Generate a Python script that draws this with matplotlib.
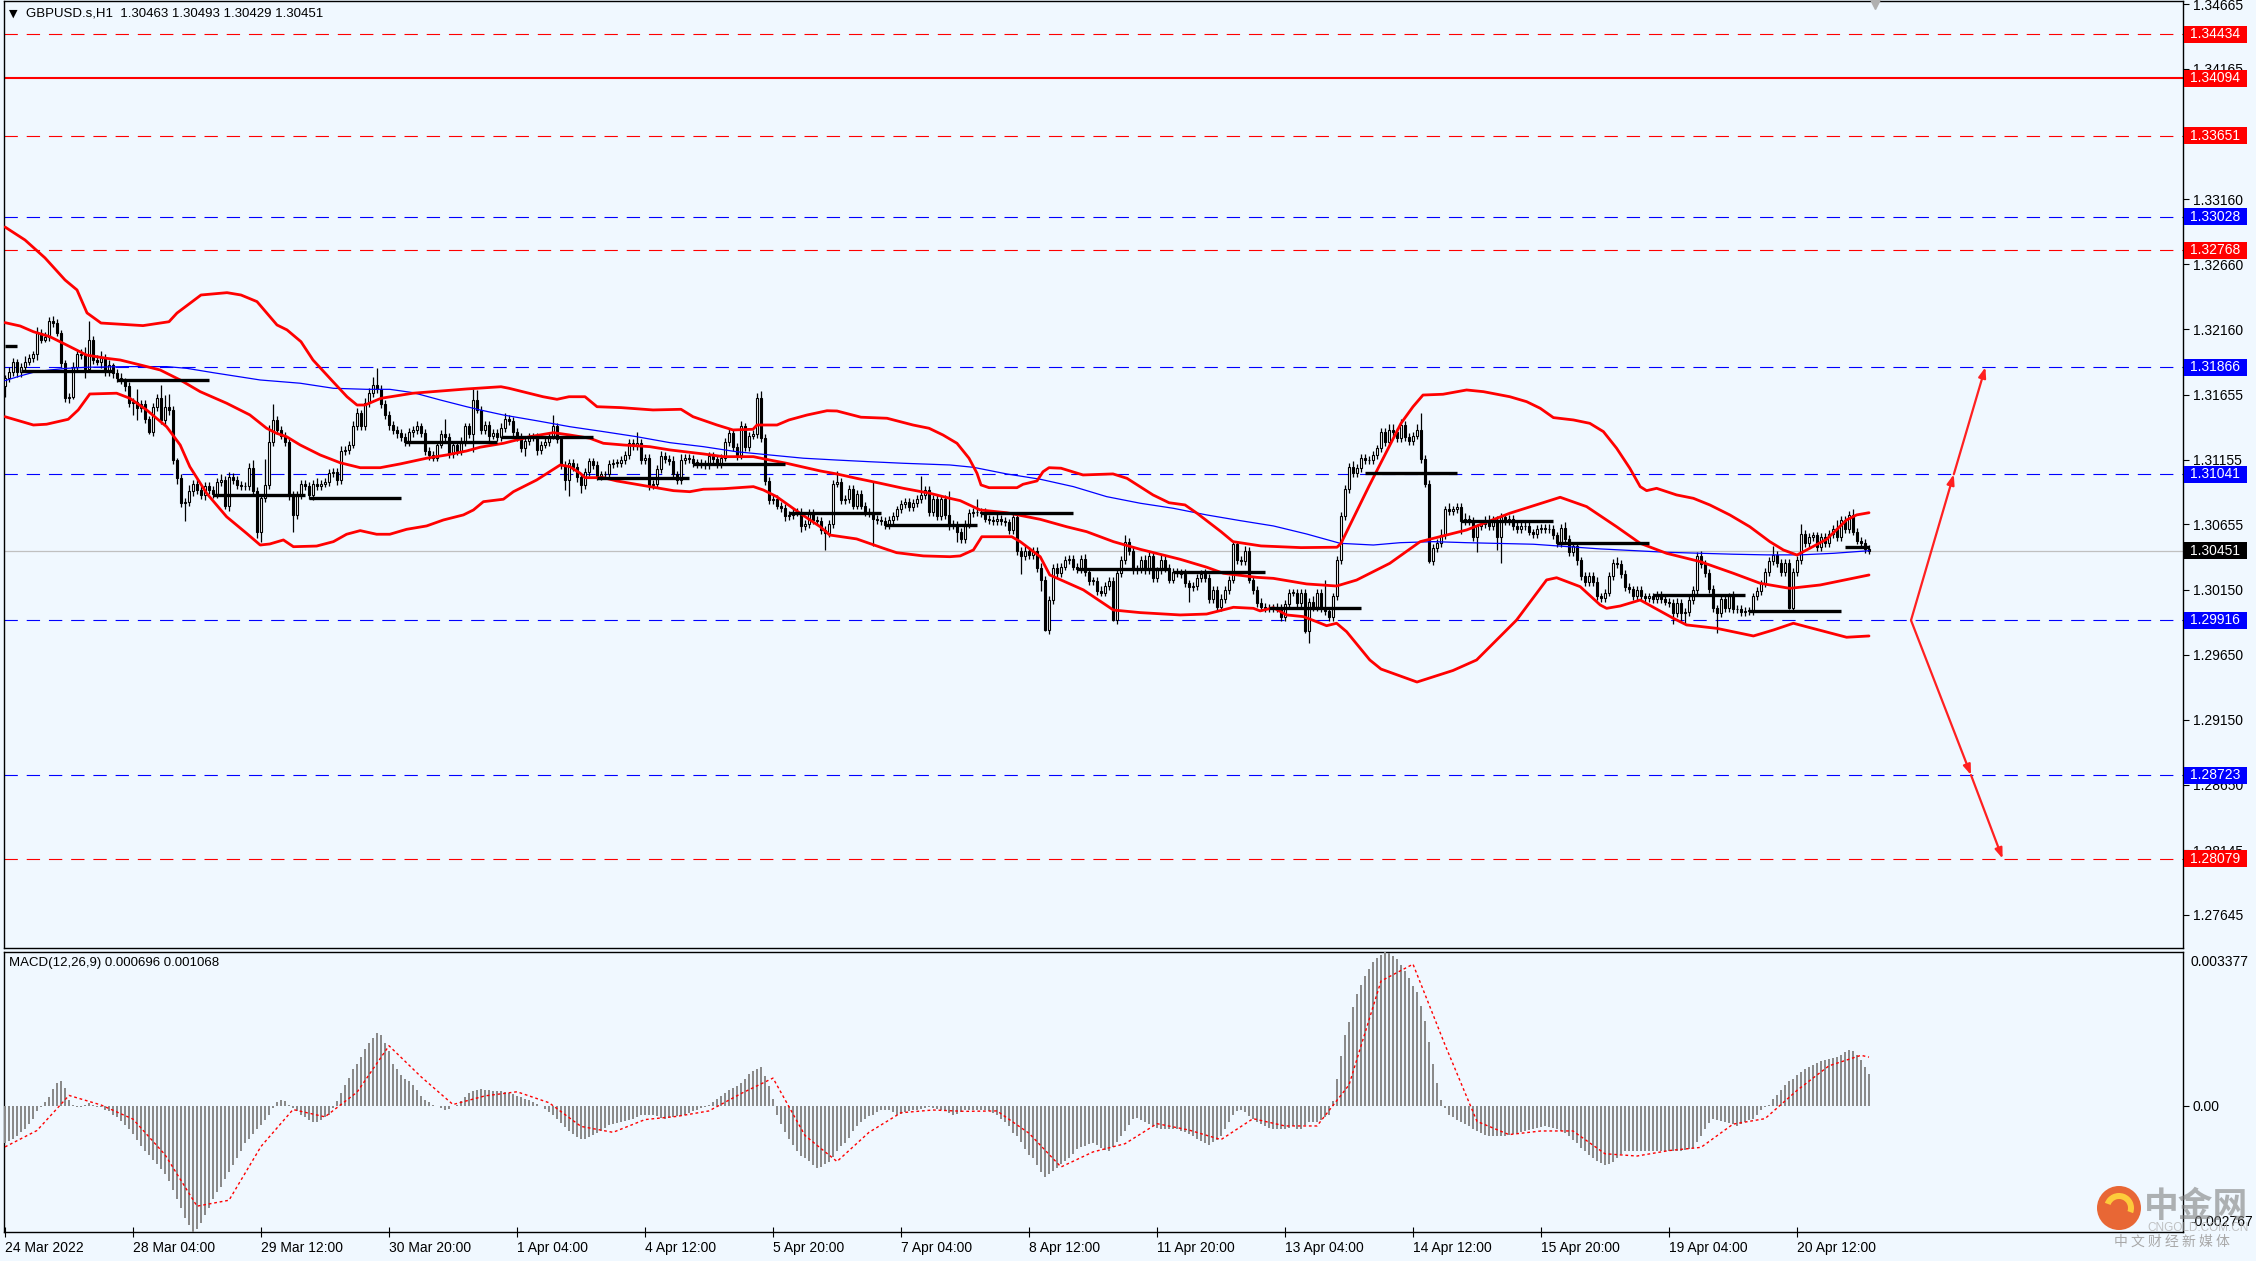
import numpy as np, matplotlib
matplotlib.use('Agg'); import matplotlib.pyplot as plt
from matplotlib.patches import Rectangle, Circle, Wedge

plt.rcParams.update({'font.family': ['Liberation Sans', 'DejaVu Sans'], 'font.size': 10})
BG = '#f0f8ff'
W, H = 2256, 1261

# ---- hourly candles, one row per day; price = 1.3 + v/1e4 ----
open0 = 172
close_days = [
 [178, 183, 191, 183],
 [187, 191, 194, 197, 213, 208, 210, 222, 221, 213, 190, 163, 164, 187, 197, 196, 185, 208, 192, 191, 194, 183, 188, 182],
 [178, 176, 172, 159, 160, 155, 158, 147, 137, 156, 163, 146, 156, 154, 115, 101, 82, 83, 91, 97, 92, 88, 95, 92],
 [89, 98, 100, 80, 102, 100, 96, 95, 95, 109, 91, 60, 86, 96, 129, 146, 138, 134, 129, 88, 73, 88, 97, 95],
 [88, 97, 95, 97, 98, 105, 106, 100, 122, 123, 127, 141, 151, 141, 159, 167, 173, 170, 158, 150, 142, 138, 136, 133],
 [129, 137, 138, 141, 136, 122, 119, 117, 127, 135, 133, 120, 127, 122, 129, 141, 135, 161, 154, 138, 142, 134, 136, 133],
 [140, 147, 145, 137, 133, 124, 130, 133, 133, 123, 127, 129, 134, 141, 131, 111, 100, 113, 110, 102, 96, 106, 114, 111],
 [103, 104, 104, 112, 113, 113, 115, 119, 128, 126, 128, 115, 117, 96, 97, 108, 118, 116, 114, 104, 100, 115, 117, 116],
 [113, 113, 112, 111, 118, 116, 112, 117, 129, 136, 125, 119, 141, 125, 134, 135, 163, 132, 99, 84, 85, 80, 78, 72],
 [73, 75, 75, 64, 66, 74, 69, 68, 61, 59, 66, 97, 98, 84, 85, 93, 80, 89, 80, 75, 74, 70, 69, 68],
 [65, 69, 72, 77, 81, 83, 79, 82, 85, 88, 92, 75, 85, 72, 85, 73, 66, 65, 60, 54, 66, 74, 75, 75],
 [74, 70, 69, 68, 70, 68, 67, 61, 71, 45, 41, 45, 42, 45, 32, 23, -16, 7, 32, 28, 33, 38, 39, 33],
 [31, 39, 29, 22, 22, 14, 13, 18, 22, -8, 28, 38, 52, 45, 30, 31, 38, 30, 41, 24, 30, 38, 32, 23],
 [29, 28, 27, 20, 17, 18, 24, 27, 24, 8, 15, 2, 8, 15, 23, 50, 38, 37, 45, 23, 15, 5, 2, 1],
 [1, 1, 1, -6, 4, 13, 13, 5, 13, -17, 6, 2, 13, 1, -1, -6, 10, 38, 72, 93, 110, 105, 109, 117],
 [115, 115, 119, 124, 137, 129, 138, 137, 132, 142, 133, 130, 134, 138, 116, 97, 37, 47, 51, 57, 77, 76, 77, 79],
 [68, 70, 68, 56, 64, 66, 69, 64, 69, 56, 71, 68, 70, 64, 62, 64, 64, 60, 58, 62, 63, 62, 62, 57],
 [51, 63, 54, 44, 49, 38, 26, 21, 26, 21, 10, 9, 13, 26, 36, 35, 27, 17, 16, 10, 15, 10, 9, 10],
 [8, 11, 8, 6, 5, -3, 5, -3, -2, 7, 15, 41, 35, 28, 16, 1, -3, 8, 1, 10, 0, 0, -2, -1],
 [-1, 10, 14, 20, 29, 37, 42, 36, 29, 36, 1, 29, 38, 58, 51, 56, 57, 48, 56, 51, 58, 62, 56, 69],
 [62, 73, 60, 53, 51, 46.3, 45.1],
]
# upper / lower wick length in pips
up_days = [
 [3, 4, 3, 2],
 [3, 4, 3, 2, 5, 3, 4, 3, 4, 3, 2, 2, 3, 4, 3, 4, 6, 14, 3, 4, 5, 3, 4, 2],
 [3, 4, 2, 3, 3, 10, 3, 3, 2, 3, 3, 10, 9, 10, 3, 2, 3, 3, 5, 3, 4, 3, 3, 3],
 [3, 3, 4, 3, 4, 3, 3, 3, 3, 4, 6, 3, 3, 20, 13, 12, 3, 3, 3, 3, 3, 3, 3, 3],
 [3, 3, 4, 3, 3, 3, 3, 3, 4, 3, 3, 4, 4, 3, 4, 4, 6, 13, 3, 3, 3, 3, 3, 3],
 [3, 3, 3, 4, 3, 3, 3, 3, 3, 3, 12, 3, 3, 3, 4, 3, 3, 9, 8, 3, 3, 3, 3, 3],
 [4, 4, 3, 3, 3, 3, 3, 3, 3, 3, 3, 3, 3, 9, 3, 3, 3, 3, 3, 3, 3, 3, 3, 3],
 [3, 3, 3, 3, 3, 3, 3, 3, 3, 3, 9, 3, 3, 3, 3, 3, 4, 3, 3, 4, 3, 5, 3, 3],
 [3, 3, 3, 3, 3, 3, 3, 3, 3, 4, 3, 3, 4, 3, 3, 3, 4, 5, 3, 3, 3, 3, 3, 3],
 [3, 3, 3, 3, 3, 3, 3, 3, 3, 3, 3, 3, 9, 3, 3, 3, 3, 3, 3, 3, 3, 25, 3, 3],
 [3, 3, 3, 3, 3, 3, 3, 3, 3, 15, 3, 3, 3, 3, 3, 3, 18, 3, 3, 3, 3, 3, 3, 10],
 [3, 4, 3, 3, 4, 3, 3, 3, 4, 3, 3, 4, 3, 3, 3, 4, 3, 3, 3, 4, 3, 3, 3, 3],
 [3, 3, 4, 3, 3, 3, 4, 3, 3, 3, 3, 3, 5, 3, 4, 3, 3, 4, 3, 3, 3, 4, 3, 3],
 [3, 3, 3, 4, 3, 3, 3, 3, 4, 3, 3, 3, 4, 3, 3, 3, 3, 3, 4, 3, 3, 3, 4, 3],
 [3, 3, 4, 3, 3, 3, 3, 3, 3, 3, 3, 4, 3, 3, 22, 3, 3, 3, 3, 3, 3, 4, 3, 3],
 [3, 3, 3, 3, 3, 3, 5, 5, 3, 5, 3, 3, 3, 5, 13, 3, 3, 3, 3, 5, 3, 5, 3, 3],
 [3, 4, 3, 3, 2, 3, 3, 4, 3, 3, 3, 2, 3, 3, 4, 3, 3, 3, 2, 3, 3, 3, 4, 3],
 [3, 3, 4, 3, 3, 3, 2, 3, 3, 3, 4, 3, 3, 3, 3, 4, 3, 3, 3, 2, 3, 3, 3, 3],
 [3, 3, 3, 2, 3, 3, 4, 3, 3, 3, 3, 3, 4, 3, 3, 3, 2, 3, 3, 3, 4, 3, 3, 3],
 [3, 3, 3, 3, 3, 3, 7, 3, 3, 3, 3, 3, 3, 8, 3, 3, 3, 3, 3, 3, 3, 3, 7, 3],
 [3, 3, 4, 3, 3, 3, 3.0],
]
dn_days = [
 [8, 3, 3, 4],
 [4, 3, 3, 3, 5, 3, 2, 3, 3, 2, 3, 3, 4, 2, 3, 3, 7, 2, 3, 3, 5, 3, 3, 4],
 [3, 2, 4, 3, 9, 9, 3, 3, 2, 3, 3, 3, 4, 4, 3, 4, 3, 14, 3, 4, 3, 3, 4, 3],
 [3, 3, 3, 3, 4, 3, 3, 3, 3, 3, 3, 5, 8, 3, 3, 3, 3, 3, 3, 4, 13, 3, 3, 3],
 [3, 4, 3, 3, 3, 3, 3, 4, 3, 3, 3, 3, 3, 3, 3, 3, 3, 3, 3, 3, 4, 3, 4, 3],
 [3, 3, 4, 3, 3, 3, 4, 3, 3, 3, 3, 3, 3, 3, 3, 3, 3, 14, 3, 3, 3, 6, 3, 3],
 [3, 3, 3, 3, 3, 3, 6, 3, 3, 4, 3, 3, 3, 3, 3, 3, 8, 13, 3, 4, 6, 3, 3, 3],
 [3, 3, 3, 3, 3, 3, 3, 3, 3, 3, 3, 3, 3, 4, 3, 3, 3, 3, 3, 3, 3, 3, 3, 3],
 [3, 4, 3, 3, 3, 3, 3, 3, 3, 3, 3, 4, 3, 3, 3, 3, 3, 3, 3, 3, 3, 3, 3, 4],
 [3, 3, 3, 4, 3, 3, 3, 3, 3, 13, 3, 3, 3, 3, 3, 3, 3, 3, 3, 3, 3, 21, 3, 3],
 [3, 3, 3, 3, 3, 3, 3, 3, 3, 3, 3, 3, 3, 3, 3, 3, 5, 3, 8, 3, 3, 3, 3, 3],
 [3, 3, 3, 3, 3, 3, 3, 3, 3, 3, 14, 3, 3, 3, 3, 9, 1, 3, 3, 3, 3, 3, 3, 3],
 [3, 3, 3, 3, 3, 3, 3, 3, 3, 1, 3, 3, 3, 3, 3, 3, 3, 3, 3, 3, 3, 3, 3, 3],
 [3, 3, 3, 3, 11, 3, 3, 3, 3, 3, 3, 3, 3, 3, 3, 3, 3, 3, 3, 3, 3, 3, 3, 3],
 [3, 3, 3, 3, 3, 3, 3, 3, 3, 1, 9, 3, 3, 3, 3, 3, 3, 3, 3, 3, 3, 3, 3, 3],
 [3, 3, 3, 3, 3, 3, 3, 3, 3, 3, 3, 3, 3, 3, 3, 3, 1, 3, 3, 3, 3, 3, 3, 3],
 [10, 3, 3, 3, 12, 3, 3, 3, 3, 10, 20, 3, 3, 3, 3, 3, 3, 3, 3, 3, 3, 3, 3, 3],
 [3, 3, 3, 3, 3, 4, 3, 3, 3, 3, 3, 3, 3, 3, 3, 3, 3, 3, 3, 3, 3, 3, 3, 3],
 [3, 3, 3, 3, 3, 8, 3, 7, 8, 3, 3, 3, 3, 3, 3, 3, 15, 3, 3, 3, 3, 3, 3, 3],
 [3, 3, 3, 3, 3, 3, 3, 3, 3, 3, 1, 3, 3, 3, 3, 3, 3, 3, 3, 3, 3, 3, 3, 3],
 [3, 3, 3, 3, 3, 3, 2.2],
]
# black daily-open segments
day_level = [1.32032, 1.31840, 1.31770, 1.30882, 1.30861, 1.31293, 1.31326, 1.31013, 1.31123,
             1.30741, 1.30650, 1.30745, 1.30314, 1.30290, 1.30013, 1.31054, 1.30684, 1.30514,
             1.30113, 1.29990, 1.30483]

# Bollinger bands (bar, price)
bb_up_x = [0, 5, 10, 15, 18, 20.5, 24, 34.5, 41, 43, 49, 55.5, 59, 63, 68, 70.5, 74, 77, 82, 85.5, 88, 90, 94, 102,
           115.5, 124, 126, 134.5, 138, 141, 145, 148, 154, 162, 169, 172, 178, 182, 187, 188, 193, 196, 200.5, 205.5,
           208, 214, 220.5, 227, 231, 234.5, 238, 241, 243, 244, 246, 253, 254.5, 258, 259.5, 261, 264, 269.5, 277,
           280.5, 287, 291, 295, 298, 304, 307, 314, 324, 333, 334, 341, 349, 352, 354.5, 359.5, 365.4, 369.6, 376.2,
           380.4, 383.8, 387.1, 392.1, 396.2, 399.6, 402.9, 406.2, 408.8, 410.4, 412.9, 417.9, 422.1, 426.2, 431.2,
           436.2, 441.2, 444.6, 448, 450.4, 455.4, 460.4, 462.9, 466]
bb_up = [1.32947, 1.32847, 1.32709, 1.32539, 1.32462, 1.32285, 1.32207, 1.32187, 1.32217, 1.32284, 1.32423, 1.32441,
         1.32423, 1.32372, 1.32192, 1.32154, 1.32063, 1.31922, 1.31755, 1.31639, 1.31575, 1.31575, 1.31627, 1.31666,
         1.31699, 1.31716, 1.31704, 1.31639, 1.31619, 1.31639, 1.31639, 1.31562, 1.31555, 1.31537, 1.31542, 1.31485,
         1.31421, 1.31383, 1.31388, 1.31421, 1.31421, 1.31460, 1.31498, 1.31531, 1.31529, 1.31481, 1.31473, 1.31421,
         1.31396, 1.31344, 1.31280, 1.31165, 1.31049, 1.30959, 1.30938, 1.30938, 1.30964, 1.30990, 1.31061, 1.31092,
         1.31088, 1.31036, 1.31044, 1.31010, 1.30882, 1.30822, 1.30805, 1.30741, 1.30599, 1.30522, 1.30489, 1.30476,
         1.30479, 1.30509, 1.30950, 1.31434, 1.31562, 1.31652, 1.31658, 1.31691, 1.31678, 1.31639, 1.31601, 1.31550,
         1.31478, 1.31460, 1.31434, 1.31370, 1.31242, 1.31088, 1.30946, 1.30915, 1.30933, 1.30882, 1.30856, 1.30805,
         1.30728, 1.30637, 1.30522, 1.30458, 1.30419, 1.30458, 1.30540, 1.30689, 1.30728, 1.30745]
bb_mid_x = [0, 3.8, 7.1, 11.2, 14.6, 17.9, 20.4, 25.4, 28.8, 33.8, 38.8, 43.8, 48.8, 55.4, 61.2, 65.4, 67.9, 70.4,
            73.8, 78.8, 83.8, 88.8, 93.8, 98.8, 105.4, 110.4, 115.4, 118.8, 124.6, 131.2, 137.1, 141.2, 146.2, 149.6,
            154.6, 161.2, 166.2, 174.6, 179.6, 187.1, 191.2, 195.4, 203.8, 207.9, 212.9, 218.8, 224.6, 231.2, 236.2,
            238.8, 243.8, 250.4, 258.8, 265.4, 270.4, 277.1, 283.8, 293.8, 300.4, 304.6, 312.9, 317.1, 325.4, 332.9,
            337.9, 346.2, 353.8, 365.4, 376.2, 388.8, 395.4, 402.9, 408.8, 415.4, 423.8, 432.1, 438.8, 446.2, 453.8, 466]
bb_mid = [1.32210, 1.32184, 1.32140, 1.32102, 1.32050, 1.31999, 1.31960, 1.31935, 1.31922, 1.31884, 1.31845, 1.31768,
          1.31678, 1.31589, 1.31499, 1.31396, 1.31357, 1.31331, 1.31267, 1.31190, 1.31130, 1.31092, 1.31092, 1.31121,
          1.31165, 1.31190, 1.31221, 1.31250, 1.31280, 1.31331, 1.31362, 1.31344, 1.31319, 1.31280, 1.31267, 1.31254,
          1.31229, 1.31198, 1.31177, 1.31177, 1.31151, 1.31126, 1.31067, 1.31044, 1.31010, 1.30972, 1.30933, 1.30895,
          1.30856, 1.30838, 1.30766, 1.30745, 1.30694, 1.30637, 1.30599, 1.30522, 1.30463, 1.30386, 1.30325, 1.30278,
          1.30247, 1.30239, 1.30196, 1.30180, 1.30226, 1.30355, 1.30522, 1.30612, 1.30741, 1.30864, 1.30792, 1.30637,
          1.30509, 1.30432, 1.30368, 1.30278, 1.30201, 1.30162, 1.30188, 1.30265]
bb_lo_x = [0, 7.1, 10.4, 15.8, 18.3, 21.2, 27.9, 31.2, 35.4, 40.4, 43.8, 46.2, 50.4, 55.4, 60.4, 63.8, 66.2, 69.6, 72.1,
           77.9, 82.1, 85.4, 88.8, 92.9, 96.2, 100.4, 105.4, 109.6, 114.6, 117.1, 119.6, 124.6, 127.1, 132.9, 138.8,
           141.2, 143.8, 145, 149.6, 152.9, 161.2, 167.1, 171.2, 174.6, 179.6, 187.1, 189.6, 192.9, 198.8, 203.8, 206.2,
           212.9, 219.6, 222.9, 229.6, 236.2, 238.8, 242.1, 244.2, 251.7, 253.8, 258.8, 261.2, 269.6, 277.1, 283.8,
           293.8, 300.4, 307.1, 312.1, 313.8, 317.1, 320.4, 324.6, 327.9, 330.4, 332.9, 335.4, 341.2, 344, 353, 362,
           367.9, 377.9, 385.4, 387.9, 393.8, 398.8, 400.4, 403.8, 408.8, 417.1, 420.4, 427.9, 437.1, 442.1, 447.1,
           450.4, 460.4, 466]
bb_lo = [1.31485, 1.31421, 1.31427, 1.31465, 1.31537, 1.31660, 1.31666, 1.31627, 1.31537, 1.31408, 1.31267, 1.31100,
         1.30895, 1.30714, 1.30586, 1.30496, 1.30504, 1.30535, 1.30483, 1.30488, 1.30522, 1.30579, 1.30607, 1.30579,
         1.30579, 1.30617, 1.30643, 1.30689, 1.30728, 1.30766, 1.30830, 1.30849, 1.30907, 1.30997, 1.31113, 1.31100,
         1.31049, 1.31015, 1.31015, 1.30990, 1.30946, 1.30915, 1.30907, 1.30926, 1.30930, 1.30946, 1.30920, 1.30869,
         1.30740, 1.30637, 1.30573, 1.30543, 1.30471, 1.30437, 1.30412, 1.30406, 1.30412, 1.30458, 1.30560, 1.30560,
         1.30522, 1.30406, 1.30265, 1.30150, 1.29995, 1.29975, 1.29957, 1.29964, 1.30016, 1.30008, 1.29988, 1.30013,
         1.29957, 1.29944, 1.29905, 1.29874, 1.29893, 1.29828, 1.29610, 1.29540, 1.29440, 1.29529, 1.29610, 1.29918,
         1.30227, 1.30244, 1.30175, 1.30034, 1.30008, 1.30026, 1.30072, 1.29931, 1.29880, 1.29854, 1.29795, 1.29841,
         1.29893, 1.29866, 1.29785, 1.29795]
# slow moving average (blue)
ma_x = [0, 3.8, 7.1, 11.2, 15.4, 20.4, 30.4, 40.4, 45.4, 52.1, 63.8, 73.8, 82.1, 90.4, 96.2, 102.1, 108.8, 115.4,
        118.8, 124.6, 132.9, 141.2, 149.6, 157.9, 166.2, 174.6, 182.9, 191.2, 199.6, 207.9, 216.2, 224.6, 236.2,
        242.1, 250.4, 258.8, 267.1, 275.4, 283.8, 292.1, 300.4, 308.8, 317.1, 325.4, 333.8, 342.1, 348.8, 357.1,
        365.4, 382.1, 398.8, 415.4, 432.1, 440.4, 448.8, 457.1, 466]
ma = [1.31763, 1.31799, 1.31827, 1.31845, 1.31858, 1.31866, 1.31871, 1.31871, 1.31858, 1.31824, 1.31768, 1.31743,
      1.31704, 1.31696, 1.31696, 1.31670, 1.31614, 1.31562, 1.31537, 1.31498, 1.31454, 1.31408, 1.31370, 1.31331,
      1.31285, 1.31254, 1.31215, 1.31190, 1.31165, 1.31151, 1.31138, 1.31126, 1.31113, 1.31095, 1.31044, 1.31003,
      1.30946, 1.30869, 1.30818, 1.30779, 1.30728, 1.30684, 1.30643, 1.30581, 1.30509, 1.30496, 1.30514, 1.30522,
      1.30514, 1.30502, 1.30466, 1.30440, 1.30425, 1.30420, 1.30420, 1.30432, 1.30452]

# horizontal levels
levels = [1.34434, 1.34094, 1.33651, 1.33028, 1.32768, 1.31866, 1.31041, 1.29916, 1.28723, 1.28079]
level_col = ['#ff0000', '#ff0000', '#ff0000', '#0000ff', '#ff0000', '#0000ff', '#0000ff', '#0000ff', '#0000ff', '#ff0000']
level_solid = [False, True, False, False, False, False, False, False, False, False]
last_price = 1.30451
price_ticks = [1.34665, 1.34165, 1.33660, 1.33160, 1.32660, 1.32160, 1.31655, 1.31155, 1.30655, 1.30150,
               1.29650, 1.29150, 1.28650, 1.28145, 1.27645]

# scenario arrows (bar, price)
up_path_x = [476.5, 487.2, 495.1]
up_path_y = [1.29916, 1.31041, 1.31866]
dn_path_x = [476.5, 491.5, 499.4]
dn_path_y = [1.29916, 1.28723, 1.28079]

# MACD main line (1e-5) per bar, one row per day
macd_days = [
 [-82, -78, -72, -65],
 [-58, -51, -40, -28, -12, -3, 8, 20, 38, 50, 54, 40, 13, 2, -3, -2, 3, 6, 2, -3, -3, -8, -12, -19],
 [-25, -34, -43, -51, -62, -75, -88, -98, -108, -118, -128, -138, -150, -165, -185, -205, -225, -245, -262, -277, -270, -258, -240, -224],
 [-205, -188, -177, -160, -145, -130, -115, -100, -82, -72, -62, -51, -42, -32, -19, -5, 8, 13, 10, 3, -5, -12, -19, -25],
 [-30, -35, -35, -30, -25, -19, -5, 10, 28, 45, 62, 80, 92, 108, 125, 139, 150, 161, 155, 139, 120, 92, 80, 68],
 [60, 54, 45, 35, 22, 14, 8, 3, 0, -5, -9, -6, 0, 3, 10, 20, 28, 32, 35, 36, 35, 34, 33, 33],
 [33, 31, 29, 26, 22, 19, 16, 12, 8, 4, 0, -7, -14, -19, -28, -38, -47, -54, -62, -68, -73, -72, -68, -64],
 [-60, -55, -48, -41, -39, -37, -35, -33, -30, -28, -24, -21, -20, -19, -19, -22, -26, -28, -27, -25, -23, -22, -19, -15],
 [-11, -9, -5, -2, 3, 8, 15, 22, 28, 34, 40, 44, 50, 60, 70, 76, 82, 85, 65, 44, 15, -19, -40, -58],
 [-73, -85, -100, -110, -114, -122, -130, -136, -134, -128, -123, -112, -98, -88, -82, -70, -55, -45, -35, -28, -22, -19, -14, -10],
 [-9, -10, -14, -19, -17, -14, -11, -9, -8, -7, -5, -3, -4, -7, -9, -12, -16, -19, -17, -14, -10, -9, -9, -9],
 [-9, -10, -12, -15, -20, -28, -35, -45, -60, -66, -80, -95, -108, -114, -130, -145, -155, -150, -142, -136, -128, -120, -114, -105],
 [-95, -90, -87, -84, -82, -86, -92, -96, -98, -90, -80, -66, -55, -42, -28, -26, -30, -35, -40, -45, -48, -51, -51, -51],
 [-51, -51, -54, -58, -62, -66, -72, -78, -82, -85, -80, -75, -66, -50, -35, -19, -12, -9, -14, -22, -28, -35, -40, -45],
 [-48, -51, -51, -51, -51, -48, -45, -51, -51, -42, -35, -35, -35, -30, -25, -19, 10, 60, 110, 155, 185, 218, 245, 265],
 [285, 300, 315, 325, 332, 337, 336, 330, 322, 310, 295, 280, 262, 250, 220, 186, 140, 92, 50, 13, -5, -19, -25, -30],
 [-35, -40, -45, -51, -55, -60, -64, -66, -66, -66, -66, -65, -63, -62, -60, -58, -56, -53, -51, -48, -46, -44, -46, -48],
 [-51, -55, -60, -66, -75, -82, -92, -100, -108, -114, -120, -126, -130, -128, -123, -115, -106, -98, -98, -98, -98, -98, -98, -98],
 [-98, -98, -98, -98, -98, -98, -98, -98, -96, -94, -92, -80, -66, -50, -38, -28, -30, -33, -35, -38, -40, -44, -40, -35],
 [-30, -28, -20, -10, -2, 3, 15, 25, 35, 45, 55, 60, 68, 75, 82, 85, 90, 95, 98, 100, 103, 105, 107, 112],
 [118, 123, 120, 112, 100, 85, 70],
]
sig_x = list(range(0, 465, 8)) + [466]
sig_vals = [-90, -54, 23, 2, -29, -107, -220, -207, -89, -8, -24, 30, 132, 64, 3, 22, 31, 7, -45, -58, -30, -23,
            -11, 27, 61, -65, -122, -58, -15, -9, -12, -11, -60, -134, -101, -83, -39, -53, -74, -28, -44, -44, 46,
            274, 311, 134, -34, -63, -55, -55, -105, -110, -98, -91, -40, -28, 34, 88, 111, 107]

time_labels = ['24 Mar 2022', '28 Mar 04:00', '29 Mar 12:00', '30 Mar 20:00', '1 Apr 04:00', '4 Apr 12:00',
               '5 Apr 20:00', '7 Apr 04:00', '8 Apr 12:00', '11 Apr 20:00', '13 Apr 04:00', '14 Apr 12:00',
               '15 Apr 20:00', '19 Apr 04:00', '20 Apr 12:00']

# ---- derived arrays ----
c = 1.3 + np.array([v for d in close_days for v in d]) / 1e4
o = np.r_[1.3 + open0 / 1e4, c[:-1]]
up = np.array([v for d in up_days for v in d]) / 1e4
dn = np.array([v for d in dn_days for v in d]) / 1e4
hi = np.maximum(o, c) + up
lo = np.minimum(o, c) - dn
x = np.arange(len(c))
day_len = [len(d) for d in close_days]
day_start = np.cumsum([0] + day_len[:-1])
macd = np.array([v for d in macd_days for v in d]) / 1e5

# ---- figure ----
fig = plt.figure(figsize=(W / 100, H / 100), dpi=100, facecolor=BG)
L, R = 4, 2183
ax = fig.add_axes([L / W, 1 - 948 / H, (R - L) / W, 947 / H], facecolor=BG)
ax2 = fig.add_axes([L / W, 1 - 1232 / H, (R - L) / W, 280 / H], facecolor=BG, sharex=ax)
xmin, xmax = -0.25, 544.5
ymin, ymax = 1.27390, 1.34689
ax.set_xlim(xmin, xmax); ax.set_ylim(ymin, ymax)

for lv, col, solid in zip(levels, level_col, level_solid):
    if solid:
        ax.axhline(lv, color=col, lw=1.5, zorder=2)
    else:
        ax.axhline(lv, color=col, lw=0.8, dashes=(12, 8), zorder=2)
ax.axhline(last_price, color='#c0c0c0', lw=0.9, zorder=2)

# candles
ax.vlines(x, lo, hi, color='black', lw=0.9, zorder=4)
bull = c >= o
bot = np.minimum(o, c)
bh = np.maximum(np.abs(c - o), 0.00003)
ax.bar(x[bull], bh[bull], bottom=bot[bull], width=0.62, color='white', edgecolor='black', lw=0.8, zorder=5)
ax.bar(x[~bull], bh[~bull], bottom=bot[~bull], width=0.62, color='black', edgecolor='black', lw=0.8, zorder=5)

# indicators
ax.plot(ma_x, ma, color='#0000ff', lw=0.9, zorder=6)
for bx, by in [(bb_up_x, bb_up), (bb_mid_x, bb_mid), (bb_lo_x, bb_lo)]:
    ax.plot(bx, by, color='#ff0000', lw=2.0, zorder=6, solid_capstyle='round')
for s, n, lv in zip(day_start, day_len, day_level):
    ax.hlines(lv, s, s + n - 1, color='black', lw=2.4, zorder=7)

# arrows
for px, py in [(up_path_x, up_path_y), (dn_path_x, dn_path_y)]:
    for i in range(len(px) - 1):
        ax.annotate('', xy=(px[i + 1], py[i + 1]), xytext=(px[i], py[i]),
                    arrowprops=dict(arrowstyle='-|>,head_length=0.6,head_width=0.22', color='#ff2020',
                                    lw=1.6, shrinkA=0, shrinkB=0), zorder=8)

# price axis
ax.yaxis.tick_right()
ax.set_yticks(price_ticks)
ax.set_yticklabels([f'{v:.5f}' for v in price_ticks])
ax.tick_params(axis='y', direction='out', length=4, width=0.8, pad=3, labelsize=10)
ax.tick_params(axis='x', bottom=False, labelbottom=False)
trans = ax.get_yaxis_transform()
bw = 63 / (R - L)
bhp = 17 / 12974
for lv, col in list(zip(levels, level_col)) + [(last_price, '#000000')]:
    ax.add_patch(Rectangle((1.0005, lv - bhp / 2), bw, bhp, transform=trans, fc=col, ec='none',
                           clip_on=False, zorder=10))
    ax.text(1.0034, lv, f'{lv:.5f}', transform=trans, color='white', va='center', ha='left',
            fontsize=10, zorder=11, clip_on=False)
for sp in ax.spines.values():
    sp.set_color('black'); sp.set_linewidth(1)

# MACD panel
ax2.bar(x, macd, width=0.5, color='#8a8a8a', zorder=3)
ax2.plot(sig_x, np.array(sig_vals) / 1e5, color='#ff0000', lw=1.0, ls=(0, (2, 2)), zorder=4)
ax2.set_ylim(-0.002767, 0.003377)
ax2.yaxis.tick_right()
ax2.set_yticks([0]); ax2.set_yticklabels(['0.00'])
ax2.tick_params(axis='y', direction='out', length=4, width=0.8, pad=3, labelsize=10)
t2 = ax2.get_yaxis_transform()
ax2.text(1.0034, 0.003377 - 0.00022, '0.003377', transform=t2, va='center', ha='left', fontsize=10, clip_on=False)
ax2.text(1.0034, -0.002767 + 0.00022, '-0.002767', transform=t2, va='center', ha='left', fontsize=10, clip_on=False)
ax2.set_xticks(list(range(0, 32 * len(time_labels), 32)))
ax2.set_xticklabels(time_labels, family=['Liberation Sans Narrow', 'Liberation Sans'], fontsize=10)
for lab in ax2.get_xticklabels():
    lab.set_ha('left')
ax2.tick_params(axis='x', direction='inout', length=7, width=0.8, pad=3)
for sp in ax2.spines.values():
    sp.set_color('black'); sp.set_linewidth(1)

# header texts
fig.text(9 / W, 1 - 14 / H, '\u25bc', fontsize=8, va='center', ha='left', family='DejaVu Sans')
fig.text(26 / W, 1 - 14 / H, 'GBPUSD.s,H1  1.30463 1.30493 1.30429 1.30451', fontsize=9.5, va='center', ha='left')
fig.text(9 / W, 1 - 963 / H, 'MACD(12,26,9) 0.000696 0.001068', fontsize=9.5, va='center', ha='left')

# overlay: watermark, shift marker
ov = fig.add_axes([0, 0, 1, 1], facecolor='none')
ov.set_xlim(0, W); ov.set_ylim(H, 0); ov.axis('off')
ov.plot([1875], [4], marker='v', ms=7, color='#b0b0b0', clip_on=False)
ov.add_patch(Circle((2119, 1208), 22, fc='#e8571f', ec='none', alpha=0.9))
ov.add_patch(Wedge((2119, 1208), 15, 200, 20, width=6, fc='#ffd23c', ec='none', alpha=0.95))
ov.text(2196, 1206, '中金网', fontsize=25, fontweight='bold', color='#808080', alpha=0.6,
        ha='center', va='center', family=['Noto Sans CJK SC', 'DejaVu Sans'])
ov.text(2198, 1228, 'CNGOLD.COM.CN', fontsize=8.5, color='#b4b4b4', alpha=0.8, ha='center', va='center')
ov.text(2172, 1242, '中 文 财 经 新 媒 体', fontsize=10, color='#a8a8a8', ha='center', va='center',
        family=['Noto Sans CJK SC', 'DejaVu Sans'])

fig.savefig('out.png', dpi=100, facecolor=BG)
